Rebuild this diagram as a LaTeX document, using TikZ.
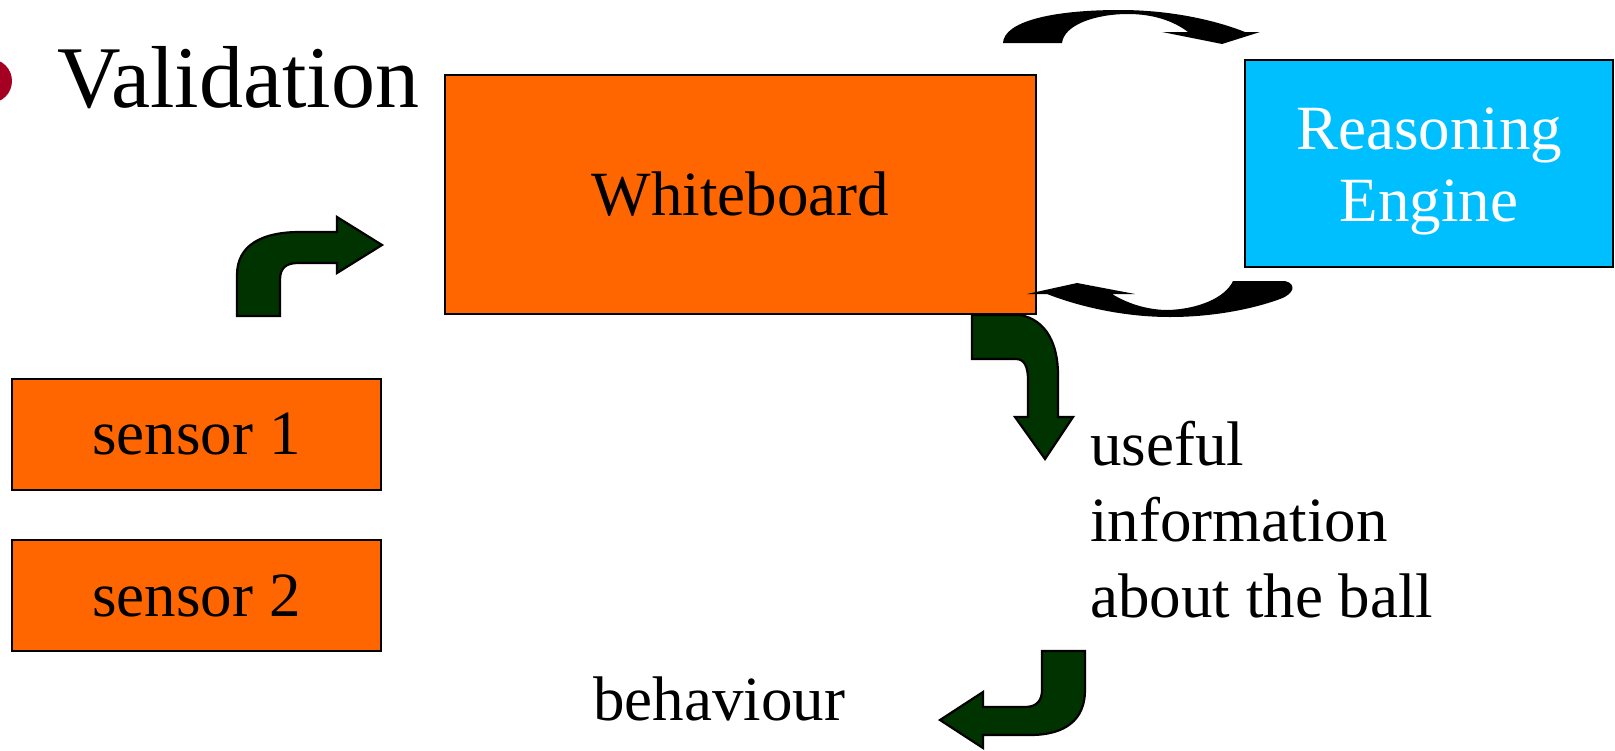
\documentclass[tikz,border=0pt]{standalone}
\usepackage{fontspec}
\setmainfont{Liberation Serif}
\definecolor{boxorange}{RGB}{255,102,0}
\definecolor{enginecyan}{RGB}{0,191,255}
\definecolor{arrowgreen}{RGB}{0,51,0}
\definecolor{bulletred}{RGB}{165,0,33}
\begin{document}
\begin{tikzpicture}[x=0.5pt,y=-0.5pt,
  orangebox/.style={draw=black,line width=1pt,fill=boxorange,inner sep=0pt},
  bodytext/.style={font=\fontsize{31.5}{38}\selectfont,inner sep=0pt},
  greenarrow/.style={fill=arrowgreen,draw=black,line width=1.1pt,line join=miter},
  blackarrow/.style={fill=black,draw=none}]
\useasboundingbox (0,0) rectangle (1615,750);

% bullet and heading
\fill[bulletred] (-10,81) circle (22);
\node[anchor=base west,inner sep=0pt,font=\fontsize{44}{52}\selectfont] (title) at (57,107) {Validation};

% boxes
\node[orangebox,minimum width=295.5pt,minimum height=119.5pt,bodytext] (whiteboard) at (740.5,194.5) {Whiteboard};
\node[draw=black,line width=1pt,fill=enginecyan,inner sep=0pt,minimum width=184pt,minimum height=103.5pt] (reasoning) at (1429,163.5) {};
\node[anchor=base,bodytext,text=white,align=center,font=\fontsize{31.5}{36}\selectfont] (reasoningtext) at (1429,221) {Reasoning\\Engine};
\node[orangebox,minimum width=184.5pt,minimum height=55.5pt,bodytext] (sensor1) at (196.5,434.5) {sensor 1};
\node[orangebox,minimum width=184.5pt,minimum height=55.5pt,bodytext] (sensor2) at (196.5,595.5) {sensor 2};

% text labels
\node[anchor=base west,bodytext,align=left] (useful) at (1090,617) {useful\\information\\about the ball};
\node[anchor=base west,bodytext] (behaviour) at (593,720) {behaviour};

% bent arrow from the sensors up to the whiteboard
\draw[greenarrow] (237,316) -- (237,275) .. controls (237,245) and (262,232) .. (300,232)
  -- (337,232) -- (337,217) -- (382,245) -- (337,273) -- (337,263) -- (298,263)
  .. controls (286,263) and (280,268) .. (280,280) -- (280,316) -- cycle;

% bent arrow down from the whiteboard
\draw[greenarrow] (972,315) -- (1020,315) .. controls (1047,320) and (1058,345) .. (1058,375)
  -- (1058,417) -- (1073,417) -- (1045,459) -- (1015,417) -- (1028,417) -- (1028,380)
  .. controls (1028,366) and (1024,359) .. (1016,359) -- (972,359) -- cycle;

% bent arrow towards the behaviour label
\draw[greenarrow] (1042,651) -- (1085,651) -- (1085,690) .. controls (1085,720) and (1065,735) .. (1030,735)
  -- (983,735) -- (983,748) -- (940,720) -- (983,692) -- (983,707) -- (1025,707)
  .. controls (1037,707) and (1042,700) .. (1042,690) -- cycle;

% curved arrow from the whiteboard to the reasoning engine
\fill[blackarrow] (1003,43) .. controls (1004,22) and (1050,10) .. (1120,10)
  .. controls (1175,10) and (1220,22) .. (1245,32) -- (1260,32) -- (1222,44) -- (1162,32) -- (1188,32)
  .. controls (1175,22) and (1155,14) .. (1128,14)
  .. controls (1095,14) and (1064,25) .. (1062,43) -- cycle;

% curved arrow from the reasoning engine back to the whiteboard
\fill[blackarrow] (1027,294) -- (1077,283) -- (1135,294) -- (1112,294)
  .. controls (1130,305) and (1150,310) .. (1168,310)
  .. controls (1198,309) and (1225,298) .. (1233,281) -- (1285,281)
  .. controls (1297,284) and (1294,294) .. (1280,299)
  .. controls (1250,310) and (1210,317) .. (1170,317)
  .. controls (1120,317) and (1075,305) .. (1047,294) -- cycle;
\end{tikzpicture}
\end{document}
